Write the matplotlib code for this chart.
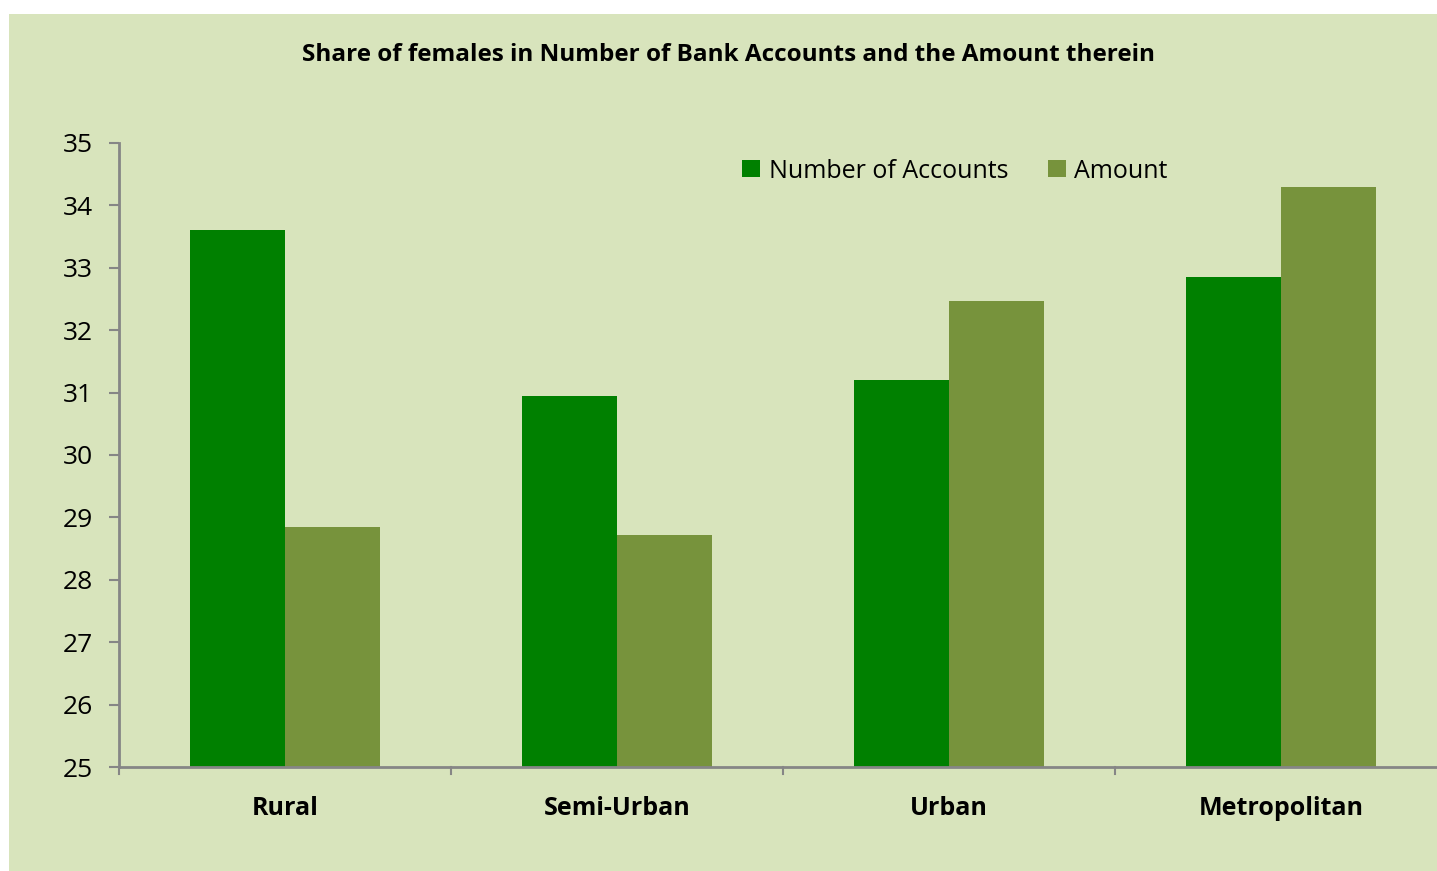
import matplotlib.pyplot as plt
from matplotlib.patches import Rectangle
import numpy as np

# Datos
categorias = ['Rural', 'Semi-Urban', 'Urban', 'Metropolitan']
num_cuentas = [33.6, 30.95, 31.2, 32.85]
monto = [28.85, 28.72, 32.47, 34.3]
ticks_y = [25, 26, 27, 28, 29, 30, 31, 32, 33, 34, 35]

W, H = 1437, 871
plt.rcParams['font.family'] = ['Open Sans', 'DejaVu Sans']

fig = plt.figure(figsize=(W / 100, H / 100), dpi=100)
fig.patch.set_facecolor('white')

# Fondo verde claro (detrás de los ejes)
fig.patches.append(Rectangle((9 / W, 0), 1 - 9 / W, 1 - 14 / H,
                             transform=fig.transFigure, facecolor='#D8E4BC',
                             edgecolor='none', zorder=-1))

# Ejes (el área se extiende más allá del borde derecho)
ax = fig.add_axes([119 / W, (H - 767) / H, 1328 / W, 624 / H])
ax.set_facecolor('none')

x = np.arange(len(categorias))
ancho = 95 / 332
ax.bar(x - ancho / 2, num_cuentas, ancho, color='#008000', label='Number of Accounts', zorder=2)
ax.bar(x + ancho / 2, monto, ancho, color='#77933C', label='Amount', zorder=2)

ax.set_xlim(-0.5, len(categorias) - 0.5)
ax.set_ylim(25, 35)
ax.set_yticks(ticks_y)
ax.set_yticklabels([str(t) for t in ticks_y], fontsize=19)
ax.set_xticks(x)
ax.set_xticklabels(categorias, fontsize=18, fontweight='bold')
ax.tick_params(axis='x', length=0, pad=21)
ax.tick_params(axis='y', length=7, width=1.5, color='#868686', pad=12, direction='out')

# Marcas entre categorías
for pos in np.arange(-0.5, len(categorias), 1.0):
    ax.plot([pos, pos], [0, -0.012], transform=ax.get_xaxis_transform(),
            color='#868686', lw=1.5, clip_on=False)

for lado in ['top', 'right']:
    ax.spines[lado].set_visible(False)
for lado in ['left', 'bottom']:
    ax.spines[lado].set_color('#868686')
    ax.spines[lado].set_linewidth(2)

fig.text(728 / W, 1 - 55 / H, 'Share of females in Number of Bank Accounts and the Amount therein',
         ha='center', va='center', fontsize=17.5, fontweight='bold')

leg = fig.legend(loc='center', bbox_to_anchor=(955 / W, 1 - 171 / H), ncol=2,
                 frameon=False, fontsize=18, handlelength=0.7, handleheight=0.7,
                 handletextpad=0.35, columnspacing=1.6)

plt.savefig('out.png', dpi=100)
